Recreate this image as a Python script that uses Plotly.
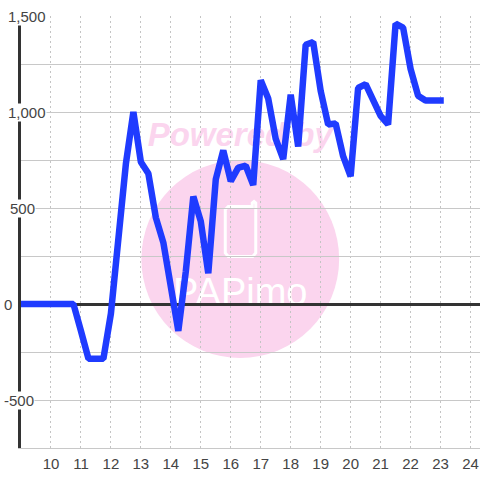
import plotly.graph_objects as go

hours = [9 + i * 0.25 for i in range(57)]
values = [0, 0, 0, 0, 0, 0, 0, 0,
          -140, -285, -285, -285, -50, 370, 730, 1000,
          740, 680, 450, 320, 90, -140, 170, 560,
          430, 160, 650, 800, 640, 710, 720, 620,
          1165, 1070, 860, 755, 1090, 820, 1350, 1365,
          1110, 935, 940, 770, 665, 1125, 1145, 1070,
          980, 935, 1460, 1440, 1225, 1085, 1060, 1060, 1060]
x_ticks = list(range(10, 25))
y_ticks = [1500, 1000, 500, 0, -500]
y_labels = ["1,500", "1,000", "500", "0", "-500"]
grid_vals = [-750, -500, -250, 0, 250, 500, 750, 1000, 1250, 1500]
logo_text = "PAPimo"
powered_text = "Powered by"

W = H = 480
L, R, T, B = 20.5, 0, 16, 32
def px(v): return (v - L) / (W - L - R)
def py(v): return 1 - (v - T) / (H - T - B)

PINK = "#fbd5ee"
fig = go.Figure(go.Scatter(x=hours[:len(values)], y=values, mode="lines",
                           line=dict(color="#1f3bff", width=6.5, shape="linear"),
                           hoverinfo="skip", cliponaxis=False))
pts = [(228, 206.5), (252, 206.5), (252, 203), (253.8, 201.5), (255.5, 203), (255.5, 253), (252.5, 256.5),
       (228, 256.5), (225, 253), (225, 209.5)]
logo_path = "M " + " L ".join(f"{px(a):.5f},{py(b):.5f}" for a, b in pts) + " Z"
shapes = [
    dict(type="circle", xref="paper", yref="paper", layer="below", fillcolor=PINK, line_width=0,
         x0=px(141), x1=px(339), y0=py(160), y1=py(358)),
    dict(type="path", xref="paper", yref="paper", layer="below", path=logo_path,
         line=dict(color="white", width=3), fillcolor="rgba(0,0,0,0)"),
    dict(type="rect", xref="paper", yref="paper", layer="below",
         x0=px(140), x1=px(340), y0=py(114), y1=py(148), line_width=0, fillcolor="rgba(0,0,0,0)",
         label=dict(text=powered_text, textposition="middle center",
                    font=dict(family="Liberation Sans", size=33, color=PINK, weight="bold", style="italic"))),
    dict(type="rect", xref="paper", yref="paper", layer="below",
         x0=px(160), x1=px(320), y0=py(270), y1=py(306), line_width=0, fillcolor="rgba(0,0,0,0)",
         label=dict(text=logo_text, textposition="middle center",
                    font=dict(family="Liberation Sans", size=38, color="white"))),
]
label_left = [6, 6, 8, 2, 2]
annotations = [dict(xref="paper", yref="y", x=px(l), y=v, text=t, showarrow=False, xanchor="left",
                    yanchor="middle", bgcolor="white", borderpad=0,
                    font=dict(family="Liberation Sans", size=15, color="#444444"))
               for l, v, t in zip(label_left, y_ticks, y_labels)]

fig.update_layout(
    width=W, height=H, autosize=False, showlegend=False,
    margin=dict(l=L, r=R, t=T, b=B, pad=0),
    paper_bgcolor="white", plot_bgcolor="rgba(0,0,0,0)",
    shapes=shapes, annotations=annotations,
    xaxis=dict(range=[9, 24.317], tickmode="array", tickvals=x_ticks, ticks="outside", ticklen=2,
               tickcolor="rgba(0,0,0,0)", showline=True, linecolor="#c8c8c8", linewidth=1,
               showgrid=True, gridcolor="#c4c4c4", griddash="2px,3px", gridwidth=1, zeroline=False,
               tickfont=dict(family="Liberation Sans", size=15, color="#444444")),
    yaxis=dict(range=[-750, 1500], tickmode="array", tickvals=grid_vals, showticklabels=False, ticks="",
               showgrid=True, gridcolor="#c8c8c8", gridwidth=1, zeroline=True, zerolinecolor="#333333",
               zerolinewidth=3, showline=True, linecolor="#333333", linewidth=3),
)
post = """
document.body.style.margin = '0';
document.body.style.overflow = 'hidden';
var s = document.createElement('style');
s.textContent = '.scatterlayer path, .scatterlayer .js-line { stroke-linejoin: bevel !important; stroke-linecap: square !important; }';
document.head.appendChild(s);
"""
fig.write_html("out.html", config=dict(displayModeBar=False), post_script=post)
